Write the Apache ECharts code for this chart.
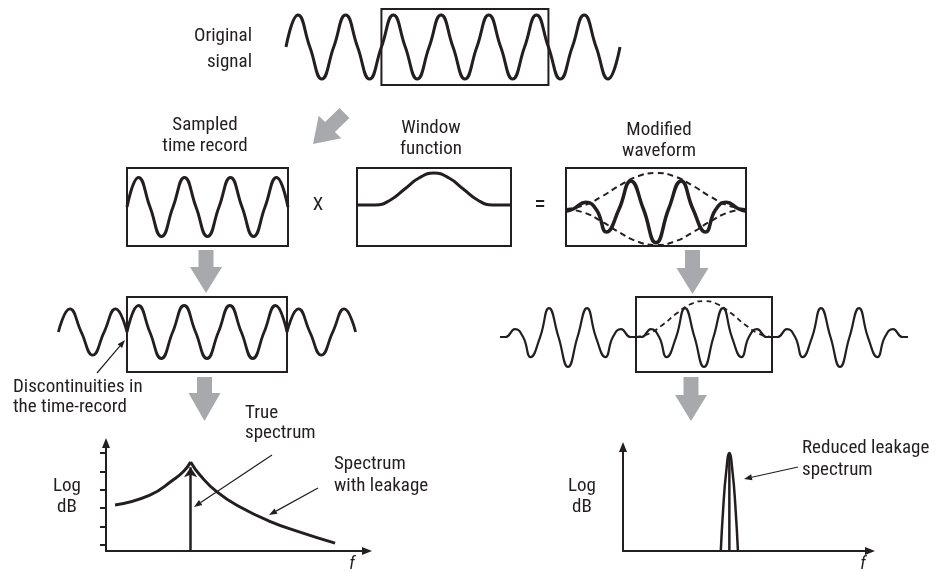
<!DOCTYPE html>
<html><head><meta charset="utf-8">
<script src="https://cdn.jsdelivr.net/npm/echarts@6/dist/echarts.min.js"></script>
<style>html,body{margin:0;padding:0;background:#fff}#chart{width:939px;height:571px}</style>
</head><body><div id="chart"></div>
<script>
// ---------------- data ----------------
// Original signal: quarter-period samples over the 7 periods drawn
const originalSignal = [0,1,0,-1, 0,1,0,-1, 0,1,0,-1, 0,1,0,-1, 0,1,0,-1, 0,1,0,-1, 0,1,0,-1, 0];
const recordWindow = [8, 22];               // time record inside the original signal (quarter periods)
// Sampled time record: 3.5 periods
const sampledRecord = [0,1,0,-1, 0,1,0,-1, 0,1,0,-1, 0,1,0];
// Window function (percent of record, relative height)
const windowX = [0, 12, 21.5, 31, 40.5, 50, 59.5, 69, 78.5, 88, 100];
const windowY = [0, 0, 0.15, 0.5, 0.85, 1, 0.85, 0.5, 0.15, 0, 0];
// Modified waveform (percent of record)
const modifiedX = [0, 4, 11, 17, 22.5, 29.5, 36, 43, 50, 57, 64, 70.5, 77.5, 83, 89, 96, 100];
const modifiedY = [-0.06, 0, 0.19, -0.03, -0.64, 0, 0.78, 0, -0.94, 0, 0.78, 0, -0.64, -0.03, 0.19, 0, -0.06];
const envelopeX = [0, 10, 20, 30, 40, 50, 60, 70, 80, 90, 100];
const envelopeTop = [0, 0.1, 0.35, 0.66, 0.91, 1, 0.91, 0.66, 0.35, 0.1, 0];
const envelopeBottom = [0, -0.1, -0.35, -0.66, -0.91, -1, -0.91, -0.66, -0.35, -0.1, 0];
// Periodic extension of the raw record (quarter periods)
const leftExtensionX = [-6, -5, -4, -3, -2, -1, 0];
const leftExtensionY = [0, 0.87, 0, -0.87, 0, 0.87, 0];
const rightExtensionX = [14, 15, 16, 17, 18, 19, 20];
const rightExtensionY = [0, 0.87, 0, -0.87, 0, 0.87, 0];
// Periodic extension of the windowed record (percent of record)
const burstX = [0, 4, 11, 17, 22.5, 29.5, 36, 43, 50, 57, 64, 70.5, 77.5, 83, 89, 96, 100];
const burstY = [0, 0, 0.22, 0, -0.56, 0, 0.8, 0, -0.83, 0, 0.8, 0, -0.56, 0, 0.22, 0, 0];
const burstOffsets = [-100, 0, 100];
const burstEnvelopeY = [0, 0.1, 0.35, 0.66, 0.91, 1, 0.91, 0.66, 0.35, 0.1, 0];
// Spectrum with leakage (f in % of axis, level in tick steps)
const leakageRiseX = [3.4, 16.5, 25.2, 29.3, 31.8];
const leakageRiseY = [2.5, 3.04, 3.86, 4.35, 4.84];
const leakageFallX = [31.8, 35.3, 41.7, 50.4, 61.3, 72.9, 86.1];
const leakageFallY = [4.84, 4.13, 3.21, 2.39, 1.63, 1.03, 0.43];
const trueToneX = [31.8, 31.8];
const trueToneY = [0, 4.55];
const dbTicks = [0.33, 1.33, 2.33, 3.33, 4.33, 5.33];
// Reduced leakage spectrum
const reducedX = [38.8, 39.8, 40.9, 42.2, 43.5, 44.6, 45.6];
const reducedY = [0, 2.41, 4.24, 5.33, 4.24, 2.41, 0];
const reducedToneX = [42.2, 42.2];
const reducedToneY = [0, 5.33];

// ---------------- helpers ----------------
const INK = '#231f20', GRAY = '#a7a9ac';
const FONT = "'Liberation Sans Narrow','Arial Narrow','Roboto Condensed','DejaVu Sans Condensed','Liberation Sans',sans-serif";
const zip = (xs, ys) => xs.map((x, i) => [x, ys[i]]);
const indexed = ys => ys.map((y, i) => [i, y]);
const burstData = burstOffsets.flatMap((off, k) =>
  zip(burstX, burstY).slice(k === 0 ? 0 : 1).map(p => [p[0] + off, p[1]]));

function grid(left, top, width, height, border) {
  return { left, top, width, height, show: !!border, borderColor: INK, borderWidth: 2,
           backgroundColor: 'transparent', containLabel: false, outerBoundsMode: 'none' };
}
function hiddenAxis(gi, min, max) { return { gridIndex: gi, type: 'value', min, max, show: false }; }
function wave(gi, data, width, extra) {
  return Object.assign({ type: 'line', xAxisIndex: gi, yAxisIndex: gi, data, smooth: 0.5,
    symbol: 'none', silent: true, animation: false,
    lineStyle: { color: INK, width: width } }, extra || {});
}
function boxArea(x0, y0, x1, y1) {
  return { silent: true, itemStyle: { color: 'rgba(0,0,0,0)', borderColor: INK, borderWidth: 2 },
           data: [[{ coord: [x0, y0] }, { coord: [x1, y1] }]] };
}
function arrowAxis(gi, min, max, ticks) {
  return { gridIndex: gi, type: 'value', min, max,
    axisLine: { show: true, symbol: ['none', 'triangle'], symbolSize: [8, 10],
                lineStyle: { color: INK, width: 2 } },
    axisTick: ticks ? { show: true, customValues: ticks, length: 6, inside: false,
                        lineStyle: { color: INK, width: 2 } } : { show: false },
    axisLabel: { show: false }, splitLine: { show: false } };
}
function txt(s, x, y, align, extra) {
  return { type: 'text', x, y, silent: true, z: 10,
    style: Object.assign({ text: s, fill: INK, fontSize: 19, fontFamily: FONT,
      align: align || 'center', verticalAlign: 'middle' }, extra || {}) };
}
function downArrow(cx, yt, yh, yp) {
  return { type: 'polygon', silent: true, shape: { points: [
    [cx - 7.5, yt], [cx + 7.5, yt], [cx + 7.5, yh], [cx + 16, yh], [cx, yp], [cx - 16, yh], [cx - 7.5, yh]] },
    style: { fill: GRAY } };
}
function thinArrow(x1, y1, x2, y2) {
  const dx = x2 - x1, dy = y2 - y1, L = Math.hypot(dx, dy), ux = dx / L, uy = dy / L;
  const hl = 8, hw = 3, bx = x2 - ux * hl, by = y2 - uy * hl;
  return [
    { type: 'line', silent: true, shape: { x1, y1, x2: bx, y2: by }, style: { stroke: INK, lineWidth: 1.2 } },
    { type: 'polygon', silent: true, shape: { points: [[x2, y2], [bx - uy * hw, by + ux * hw], [bx + uy * hw, by - ux * hw]] },
      style: { fill: INK } }
  ];
}

const dashed = { color: INK, width: 2, type: [6, 4] };

const option = {
  backgroundColor: '#ffffff',
  animation: false,
  grid: [
    grid(286, 5, 334, 84, false),     // 0 original signal
    grid(127, 168, 161, 78, true),    // 1 sampled time record
    grid(357, 168, 154, 78, true),    // 2 window function
    grid(566, 168, 180, 78, true),    // 3 modified waveform
    grid(58.4, 290, 297.2, 90, false),// 4 record with discontinuities
    grid(500, 290, 408, 90, false),   // 5 windowed record extended
    grid(106, 443, 261, 108, false),  // 6 spectrum with leakage
    grid(623, 447, 247, 104, false)   // 7 reduced leakage spectrum
  ],
  xAxis: [
    hiddenAxis(0, 0, 28),
    hiddenAxis(1, 0, 14),
    hiddenAxis(2, 0, 100),
    hiddenAxis(3, 0, 100),
    hiddenAxis(4, -6, 20),
    hiddenAxis(5, -100, 200),
    arrowAxis(6, 0, 98.1, null),
    arrowAxis(7, 0, 98.0, null)
  ],
  yAxis: [
    hiddenAxis(0, -1.3125, 1.3125),
    hiddenAxis(1, -1.322, 1.322),
    hiddenAxis(2, -1.281, 1.156),
    hiddenAxis(3, -1.028, 1.139),
    hiddenAxis(4, -1.811, 1.585),
    hiddenAxis(5, -1.194, 1.306),
    arrowAxis(6, 0, 5.87, dbTicks),
    arrowAxis(7, 0, 5.65, null)
  ],
  series: [
    wave(0, indexed(originalSignal), 3, { markArea: boxArea(recordWindow[0], 1.1875, recordWindow[1], -1.1875) }),
    wave(1, indexed(sampledRecord), 3),
    wave(2, zip(windowX, windowY), 3),
    wave(3, zip(envelopeX, envelopeTop), 2, { lineStyle: dashed }),
    wave(3, zip(envelopeX, envelopeBottom), 2, { lineStyle: dashed }),
    wave(3, zip(modifiedX, modifiedY), 3.5),
    wave(4, zip(leftExtensionX, leftExtensionY), 2.8),
    wave(4, indexed(sampledRecord), 2.8, { markArea: boxArea(0, 1.321, 14, -1.509) }),
    wave(4, zip(rightExtensionX, rightExtensionY), 2.8),
    wave(5, burstData, 2.2, { markArea: boxArea(0, 1.111, 100, -0.972) }),
    wave(5, zip(envelopeX, burstEnvelopeY), 1.8, { lineStyle: { color: INK, width: 1.8, type: [5, 4] } }),
    wave(6, zip(leakageRiseX, leakageRiseY), 3),
    wave(6, zip(leakageFallX, leakageFallY), 3),
    { type: 'lines', coordinateSystem: 'cartesian2d', xAxisIndex: 6, yAxisIndex: 6, silent: true,
      symbol: ['none', 'arrow'], symbolSize: 10, clip: false,
      lineStyle: { color: INK, width: 2.5, opacity: 1 },
      data: [{ coords: zip(trueToneX, trueToneY) }] },
    wave(7, zip(reducedX, reducedY), 2.5),
    wave(7, zip(reducedToneX, reducedToneY), 2.5, { smooth: false })
  ],
  graphic: { elements: [
    txt('Original', 252, 36, 'right'), txt('signal', 252, 62, 'right'),
    txt('Sampled', 205, 125), txt('time record', 205, 146),
    txt('Window', 431, 128), txt('function', 431, 149),
    txt('Modified', 659, 130), txt('waveform', 659, 151),
    txt('X', 318, 205), txt('=', 540, 206, 'center', { fontSize: 24 }),
    txt('Discontinuities in', 13, 387, 'left'), txt('the time-record', 13, 407, 'left'),
    txt('True', 245, 413, 'left'), txt('spectrum', 245, 433, 'left'),
    txt('Spectrum', 334, 464, 'left'), txt('with leakage', 334, 486, 'left'),
    txt('Log', 67, 486), txt('dB', 67, 507),
    txt('Log', 582, 486), txt('dB', 582, 507),
    txt('f', 352, 564, 'center', { fontStyle: 'italic', fontSize: 18 }),
    txt('f', 863, 564, 'center', { fontStyle: 'italic', fontSize: 18 }),
    txt('Reduced leakage', 802, 448, 'left'), txt('spectrum', 802, 470, 'left'),
    { type: 'polygon', silent: true, shape: { points: [[313, 144], [341.3, 138.3], [334.9, 131.9], [349.4, 117.9], [339.6, 108.1], [325.1, 122.1], [318.7, 115.7]] }, style: { fill: GRAY } },
    downArrow(206, 250, 267, 293),
    downArrow(692.5, 250, 268, 294),
    downArrow(204.5, 377, 393, 421),
    downArrow(691, 377, 395, 421),
    ...thinArrow(97, 373, 125, 340),
    ...thinArrow(272, 455, 194, 507),
    ...thinArrow(318, 488, 269, 515),
    ...thinArrow(798, 467, 744, 479)
  ] }
};

const chart = echarts.init(document.getElementById('chart'), null, { renderer: 'canvas' });
chart.setOption(option);
</script>
</body></html>
